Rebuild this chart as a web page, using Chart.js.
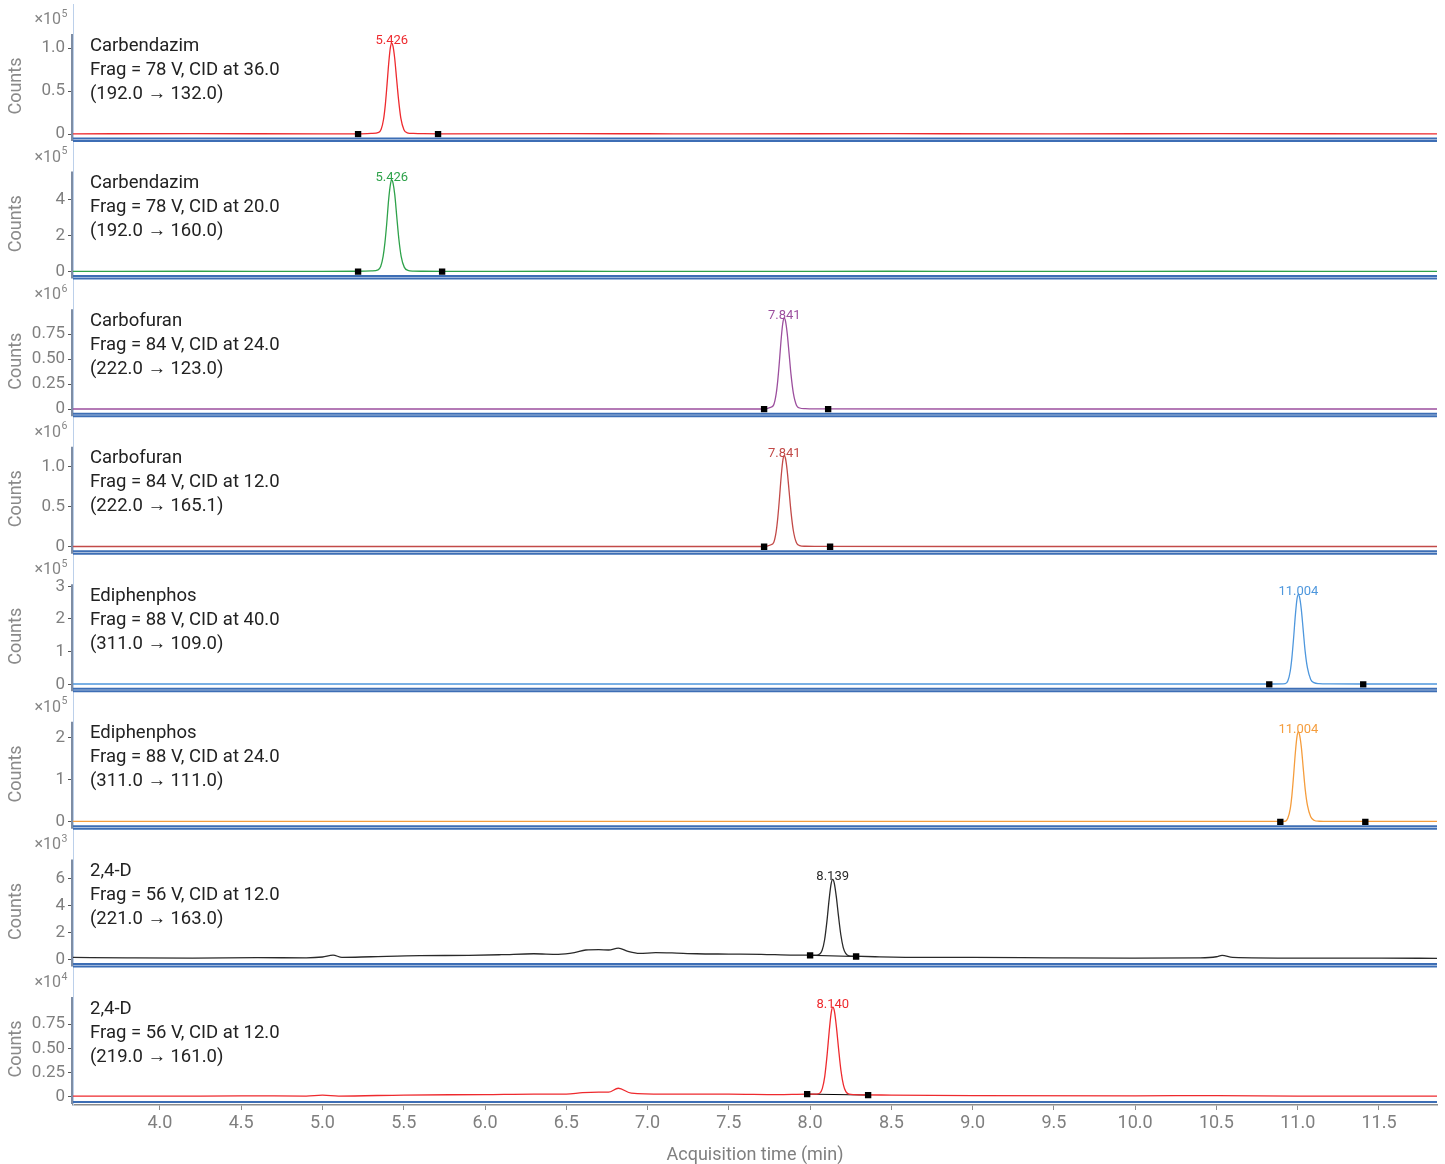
<!DOCTYPE html>
<html>
<head>
<meta charset="utf-8">
<title>MRM chromatograms</title>
<script src="https://cdn.jsdelivr.net/npm/chart.js"></script>
<style>
  html, body { margin: 0; padding: 0; background: #fff; }
</style>
</head>
<body>
<canvas id="chrom" width="1445" height="1164"></canvas>
<script>
// one entry per trace, top to bottom
const compounds = ['Carbendazim', 'Carbendazim', 'Carbofuran', 'Carbofuran', 'Ediphenphos', 'Ediphenphos', '2,4-D', '2,4-D'];
const fragLines = ['Frag = 78 V, CID at 36.0', 'Frag = 78 V, CID at 20.0', 'Frag = 84 V, CID at 24.0', 'Frag = 84 V, CID at 12.0',
  'Frag = 88 V, CID at 40.0', 'Frag = 88 V, CID at 24.0', 'Frag = 56 V, CID at 12.0', 'Frag = 56 V, CID at 12.0'];
const transitions = ['(192.0 \u2192 132.0)', '(192.0 \u2192 160.0)', '(222.0 \u2192 123.0)', '(222.0 \u2192 165.1)',
  '(311.0 \u2192 109.0)', '(311.0 \u2192 111.0)', '(221.0 \u2192 163.0)', '(219.0 \u2192 161.0)'];
const colors = ['#ee2a2e', '#2ea24a', '#9c4f9e', '#c24a48', '#4e97dd', '#f59d3d', '#2a2a2a', '#ee2a2e'];

// y axes: counts are in units of 10^exp
const exps = [5, 5, 6, 6, 5, 5, 3, 4];
const yTop = [1.163, 5.56, 1.0, 1.25, 3.06, 2.38, 7.41, 1.03];
const yTickVals = [[0, 0.5, 1], [0, 2, 4], [0, 0.25, 0.5, 0.75], [0, 0.5, 1], [0, 1, 2, 3], [0, 1, 2], [0, 2, 4, 6], [0, 0.25, 0.5, 0.75]];
const yTickText = [['0', '0.5', '1.0'], ['0', '2', '4'], ['0', '0.25', '0.50', '0.75'], ['0', '0.5', '1.0'],
  ['0', '1', '2', '3'], ['0', '1', '2'], ['0', '2', '4', '6'], ['0', '0.25', '0.50', '0.75']];

// x axis (minutes)
const xMin = 3.465, xMax = 11.857;
const xTickVals = [4.0, 4.5, 5.0, 5.5, 6.0, 6.5, 7.0, 7.5, 8.0, 8.5, 9.0, 9.5, 10.0, 10.5, 11.0, 11.5];
const xTickText = ['4.0', '4.5', '5.0', '5.5', '6.0', '6.5', '7.0', '7.5', '8.0', '8.5', '9.0', '9.5', '10.0', '10.5', '11.0', '11.5'];

// traces as [time, counts]
const trace1 = [[3.465, 0.003], [4.2, 0.004], [5.0, 0.003], [5.22, 0.003], [5.30, 0.008], [5.346, 0.02], [5.361, 0.055], [5.376, 0.175],
  [5.386, 0.33], [5.396, 0.55], [5.408, 0.835], [5.418, 1.01], [5.426, 1.058], [5.434, 1.02], [5.444, 0.885], [5.456, 0.64],
  [5.468, 0.40], [5.482, 0.185], [5.501, 0.05], [5.521, 0.015], [5.56, 0.007], [5.62, 0.004], [5.72, 0.003], [6.5, 0.004],
  [7.5, 0.003], [8.5, 0.004], [9.5, 0.003], [10.5, 0.004], [11.857, 0.003]];
const trace2 = [[3.465, 0.015], [4.2, 0.02], [5.0, 0.015], [5.22, 0.02], [5.30, 0.04], [5.342, 0.1], [5.358, 0.28], [5.373, 0.85],
  [5.384, 1.6], [5.395, 2.65], [5.407, 4.0], [5.418, 4.85], [5.426, 5.1], [5.434, 4.92], [5.445, 4.25], [5.457, 3.05],
  [5.47, 1.8], [5.484, 0.85], [5.503, 0.25], [5.525, 0.07], [5.56, 0.03], [5.62, 0.02], [5.74, 0.015], [6.5, 0.02],
  [7.5, 0.015], [8.5, 0.02], [9.5, 0.015], [10.5, 0.02], [11.857, 0.015]];
const trace3 = [[3.465, 0.002], [5.0, 0.002], [6.5, 0.002], [7.715, 0.002], [7.756, 0.018], [7.776, 0.043], [7.791, 0.15],
  [7.801, 0.286], [7.811, 0.473], [7.823, 0.72], [7.833, 0.87], [7.841, 0.91], [7.849, 0.878], [7.859, 0.76], [7.871, 0.552],
  [7.883, 0.34], [7.897, 0.16], [7.916, 0.04], [7.936, 0.012], [7.97, 0.005], [8.03, 0.003], [9.0, 0.002], [10.5, 0.002], [11.857, 0.002]];
const trace4 = [[3.465, 0.003], [5.0, 0.003], [6.5, 0.003], [7.715, 0.003], [7.756, 0.022], [7.776, 0.054], [7.791, 0.187],
  [7.801, 0.358], [7.811, 0.593], [7.823, 0.90], [7.833, 1.09], [7.841, 1.14], [7.849, 1.10], [7.859, 0.952], [7.871, 0.69],
  [7.883, 0.427], [7.897, 0.20], [7.916, 0.05], [7.936, 0.015], [7.97, 0.006], [8.03, 0.004], [9.0, 0.003], [10.5, 0.003], [11.857, 0.003]];
const trace5 = [[3.465, 0.01], [5.0, 0.01], [7.0, 0.01], [9.0, 0.01], [10.5, 0.01], [10.85, 0.01], [10.924, 0.02], [10.939, 0.1],
  [10.954, 0.40], [10.964, 0.80], [10.974, 1.37], [10.986, 2.14], [10.996, 2.62], [11.004, 2.75], [11.012, 2.65], [11.022, 2.3],
  [11.034, 1.65], [11.046, 1.0], [11.06, 0.5], [11.08, 0.15], [11.1, 0.05], [11.13, 0.02], [11.2, 0.012], [11.4, 0.01], [11.857, 0.01]];
const trace6 = [[3.465, 0.01], [5.0, 0.01], [7.0, 0.01], [9.0, 0.01], [10.5, 0.01], [10.88, 0.01], [10.924, 0.015], [10.939, 0.085],
  [10.954, 0.31], [10.964, 0.62], [10.974, 1.07], [10.986, 1.67], [10.996, 2.04], [11.004, 2.14], [11.012, 2.06], [11.022, 1.79],
  [11.034, 1.28], [11.046, 0.78], [11.06, 0.39], [11.08, 0.12], [11.1, 0.04], [11.13, 0.015], [11.2, 0.01], [11.4, 0.01], [11.857, 0.01]];
const trace7 = [[3.465, 0.15], [3.8, 0.12], [4.2, 0.1], [4.6, 0.13], [4.9, 0.12], [5.0, 0.18], [5.065, 0.32], [5.12, 0.15], [5.3, 0.2],
  [5.6, 0.28], [5.9, 0.3], [6.1, 0.35], [6.3, 0.42], [6.45, 0.38], [6.55, 0.5], [6.62, 0.7], [6.7, 0.72], [6.76, 0.7], [6.82, 0.84],
  [6.88, 0.6], [6.95, 0.45], [7.05, 0.5], [7.15, 0.48], [7.3, 0.42], [7.5, 0.4], [7.7, 0.38], [7.9, 0.32], [7.98, 0.32],
  [8.039, 0.32], [8.059, 0.4], [8.074, 0.68], [8.089, 1.44], [8.104, 2.88], [8.117, 4.43], [8.129, 5.58], [8.139, 5.93],
  [8.149, 5.64], [8.161, 4.67], [8.174, 3.28], [8.189, 1.83], [8.204, 0.88], [8.219, 0.45], [8.239, 0.27], [8.27, 0.24],
  [8.4, 0.2], [8.7, 0.15], [9.0, 0.15], [9.5, 0.12], [10.0, 0.1], [10.4, 0.12], [10.5, 0.2], [10.535, 0.3], [10.6, 0.15],
  [11.0, 0.1], [11.5, 0.1], [11.857, 0.08]];
const trace8 = [[3.465, 0.01], [4.0, 0.008], [4.5, 0.012], [4.9, 0.01], [5.0, 0.02], [5.1, 0.01], [5.5, 0.02], [6.0, 0.025],
  [6.3, 0.03], [6.5, 0.03], [6.6, 0.045], [6.7, 0.05], [6.76, 0.05], [6.82, 0.09], [6.9, 0.04], [7.1, 0.03], [7.5, 0.03],
  [7.8, 0.025], [7.98, 0.03], [8.04, 0.03], [8.06, 0.04], [8.075, 0.086], [8.09, 0.21], [8.105, 0.44], [8.118, 0.685],
  [8.13, 0.87], [8.14, 0.925], [8.15, 0.88], [8.162, 0.72], [8.175, 0.5], [8.19, 0.27], [8.205, 0.125], [8.22, 0.055],
  [8.24, 0.03], [8.27, 0.025], [8.5, 0.02], [9.0, 0.015], [10.0, 0.012], [10.5, 0.015], [11.0, 0.01], [11.857, 0.01]];
const traces = [trace1, trace2, trace3, trace4, trace5, trace6, trace7, trace8];

// integration start / end markers
const markT = [[5.219, 5.711], [5.219, 5.736], [7.717, 8.111], [7.717, 8.123], [10.825, 11.403], [10.893, 11.416], [8.0, 8.283], [7.982, 8.357]];
const markV = [[0, 0], [0, 0], [0, 0], [0, 0], [0, 0], [0, 0], [0.3, 0.22], [0.03, 0.02]];

// peak apex labels
const peakT = [5.426, 5.426, 7.841, 7.841, 11.004, 11.004, 8.139, 8.140];
const peakH = [1.058, 5.1, 0.91, 1.14, 2.75, 2.14, 5.93, 0.925];
const peakText = ['5.426', '5.426', '7.841', '7.841', '11.004', '11.004', '8.139', '8.140'];

Chart.defaults.font.family = 'Roboto';

const datasets = [];
const scales = {
  x: {
    type: 'linear', min: xMin, max: xMax,
    afterBuildTicks: s => { s.ticks = xTickVals.map(v => ({value: v})); },
    afterFit: s => { s.height = 59; },
    ticks: {color: '#7f7f7f', font: {size: 18}, padding: 3, autoSkip: false, maxRotation: 0,
      callback: (v, i) => xTickText[i]},
    grid: {display: true, drawOnChartArea: false, drawTicks: true, tickLength: 5, color: '#8c8c8c'},
    border: {display: true, color: '#8c8c8c', width: 1.5},
    title: {display: true, text: 'Acquisition time (min)', color: '#7f7f7f', font: {size: 18, lineHeight: 1},
      padding: {top: 0, bottom: 0}}
  }
};

compounds.forEach((c, i) => {
  const id = 'y' + i;
  // each panel: 8 px below zero, data region 100 px, header above
  scales[id] = {
    type: 'linear', position: 'left', stack: 'panels', stackWeight: 1, weight: 8 - i,
    min: -0.08 * yTop[i], max: 1.2956 * yTop[i],
    afterBuildTicks: s => { s.ticks = yTickVals[i].map(v => ({value: v})); },
    afterFit: s => { s.width = 73; s.paddingTop = 0; s.paddingBottom = 0; },
    ticks: {color: '#7f7f7f', font: {size: 17}, padding: 3, autoSkip: false,
      callback: (v, k) => yTickText[i][k]},
    grid: {display: true, drawOnChartArea: false, drawTicks: true, tickLength: 5, color: '#555'},
    border: {display: true, color: '#bcd0ea', width: 1}
  };
  datasets.push({
    data: traces[i].map(p => ({x: p[0], y: p[1]})),
    yAxisID: id, borderColor: colors[i], borderWidth: 1.3, pointRadius: 0,
    cubicInterpolationMode: 'monotone', order: 2
  });
  // drawn baseline between the markers only where it lifts off zero
  if (markV[i].some(v => v !== 0)) {
    datasets.push({
      data: markT[i].map((t, k) => ({x: t, y: markV[i][k]})),
      yAxisID: id, borderColor: '#000', borderWidth: 1, pointRadius: 0, order: 3
    });
  }
  datasets.push({
    data: markT[i].map((t, k) => ({x: t, y: markV[i][k]})),
    yAxisID: id, showLine: false, pointStyle: 'rect', pointRadius: 4.5,
    pointBackgroundColor: '#000', pointBorderColor: '#000', pointBorderWidth: 0, order: 1
  });
});

const decor = {
  id: 'decor',
  afterDraw(chart) {
    const ctx = chart.ctx;
    const area = chart.chartArea;
    const xs = chart.scales.x;
    ctx.save();
    compounds.forEach((name, i) => {
      const ys = chart.scales['y' + i];
      const zero = ys.getPixelForValue(0);
      const top = ys.getPixelForValue(yTop[i]);

      // darker spine over the data range
      ctx.strokeStyle = '#7e8da4';
      ctx.lineWidth = 2;
      ctx.beginPath();
      ctx.moveTo(72, top);
      ctx.lineTo(72, zero + 7);
      ctx.stroke();

      // blue double rule under each trace
      ctx.strokeStyle = '#3d6eb5';
      ctx.lineWidth = 2;
      const rules = i < compounds.length - 1 ? [4.5, 7] : [5];
      rules.forEach(d => {
        ctx.beginPath();
        ctx.moveTo(area.left, zero + d);
        ctx.lineTo(area.right, zero + d);
        ctx.stroke();
      });

      // exponent
      ctx.fillStyle = '#858585';
      ctx.textBaseline = 'middle';
      ctx.textAlign = 'right';
      ctx.font = '16px Roboto';
      ctx.fillText('\u00d710', 61, zero - 114);
      ctx.textAlign = 'left';
      ctx.font = '10.5px Roboto';
      ctx.fillText(String(exps[i]), 61.5, zero - 120);

      // y title
      ctx.save();
      ctx.translate(16, zero - 48);
      ctx.rotate(-Math.PI / 2);
      ctx.textAlign = 'center';
      ctx.font = '18px Roboto';
      ctx.fillStyle = '#8a8a8a';
      ctx.fillText('Counts', 0, 0);
      ctx.restore();

      // compound / transition text
      ctx.fillStyle = '#222';
      ctx.textAlign = 'left';
      ctx.font = '18.5px Roboto';
      ctx.fillText(name, 90, zero - 88);
      ctx.fillText(fragLines[i], 90, zero - 64);
      ctx.fillText(transitions[i], 90, zero - 40);

      // retention time over the apex
      ctx.fillStyle = colors[i];
      ctx.textAlign = 'center';
      ctx.textBaseline = 'alphabetic';
      ctx.font = '13px Roboto';
      ctx.fillText(peakText[i], xs.getPixelForValue(peakT[i]), ys.getPixelForValue(peakH[i]) + 1);
    });
    ctx.restore();
  }
};

new Chart(document.getElementById('chrom'), {
  type: 'line',
  data: {datasets},
  options: {
    responsive: false,
    animation: false,
    devicePixelRatio: 1,
    layout: {padding: {top: 4.5, right: 8, left: 0, bottom: 0}},
    plugins: {legend: {display: false}, tooltip: {enabled: false}},
    scales
  },
  plugins: [decor]
});
</script>
</body>
</html>
